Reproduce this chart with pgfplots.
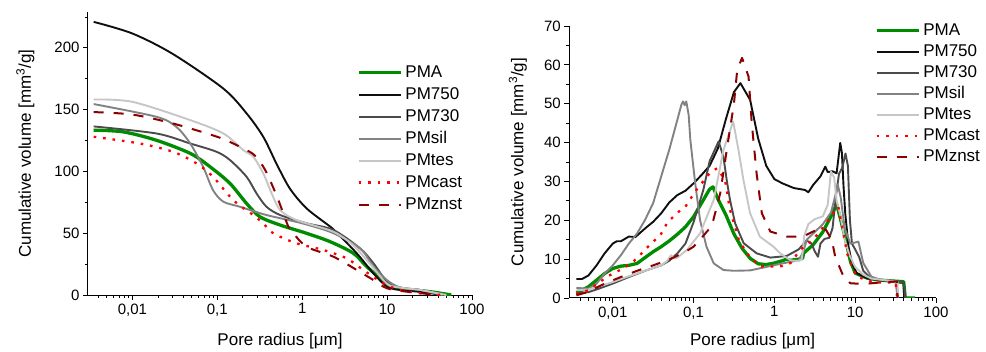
\documentclass[border=0pt]{standalone}
\usepackage{fontspec}
\setmainfont{Liberation Sans}
\usepackage{pgfplots}
\pgfplotsset{compat=1.18}
\definecolor{cgreen}{RGB}{0,140,0}
\definecolor{c750}{RGB}{15,15,15}
\definecolor{c730}{RGB}{75,75,75}
\definecolor{csil}{RGB}{130,130,130}
\definecolor{ctes}{RGB}{198,198,198}
\definecolor{ccast}{RGB}{255,0,0}
\definecolor{cznst}{RGB}{140,0,0}
\pgfplotsset{
  myax/.style={
    scale only axis, axis lines*=left, tick align=outside,
    major tick length=5pt, minor tick length=3pt,
    every tick/.style={black, line width=0.8pt},
    axis line style={line width=1pt, black},
    xtick={0.01,0.1,1,10,100}, xticklabels={{0,01},{0,1},1,10,100},
    minor xtick={0.004,0.005,0.006,0.007,0.008,0.009,0.02,0.03,0.04,0.05,0.06,0.07,0.08,0.09,0.2,0.3,0.4,0.5,0.6,0.7,0.8,0.9,2,3,4,5,6,7,8,9,20,30,40,50,60,70,80,90},
    tick label style={font=\fontsize{15}{15}\selectfont, black},
    /pgf/number format/assume math mode=true,
    label style={font=\fontsize{17}{17}\selectfont},
    xlabel={Pore radius [μm]},
    ylabel={Cumulative volume [mm\textsuperscript{3}/g]},
    legend cell align=left,
    legend image code/.code={\draw[##1] (0pt,0pt) -- (42pt,0pt);},
    legend style={draw=none, fill=none, inner sep=0pt, anchor=north west,
      nodes={font=\fontsize{17}{17}\selectfont, inner ysep=0pt, inner xsep=3pt, text height=12pt, text depth=3pt}},
  },
  sPMA/.style={cgreen, line width=3.3pt},
  s750/.style={c750, line width=1.9pt},
  s730/.style={c730, line width=1.9pt},
  ssil/.style={csil, line width=1.9pt},
  stes/.style={ctes, line width=1.9pt},
  scast/.style={ccast, line width=2.3pt, dash pattern=on 2.6pt off 6.9pt},
  sznst/.style={cznst, line width=2pt, dash pattern=on 10pt off 10pt},
}
\begin{document}
\begin{tikzpicture}
\path[use as bounding box] (0pt,0pt) rectangle (986pt,351pt);
% ---------------- left: cumulative
\begin{axis}[xmode=log, myax, at={(88pt,56pt)}, anchor=south west,
  width=384pt, height=283pt,
  xmin=0.003, xmax=100, ymin=0, ymax=229,
  ytick={0,50,100,150,200}, minor ytick={25,75,125,175,225},
  xlabel style={at={(axis description cs:0.5,-0.18)}, anchor=base},
  ylabel style={at={(axis description cs:-0.149,0.5)}, anchor=base},
  legend style={at={(0.7005,0.813)}, row sep=7pt}]
\addplot[sPMA, smooth, tension=0.5] coordinates {(0.0035,133.4)(0.0078,132)(0.019,125.3)(0.048,114.6)(0.082,103.8)(0.141,90.3)(0.221,74.1)(0.318,63.3)(0.55,56.6)(1.13,49.9)(2.14,43.1)(4.02,33.7)(5.77,22.9)(10,9.4)(15.6,4.9)(32,2.7)(57,0)};
\addlegendentry{PMA}
\addplot[s750, smooth, tension=0.5] coordinates {(0.0035,221)(0.01,211.6)(0.03,195)(0.118,167)(0.221,147)(0.348,128)(0.5,106)(0.718,86)(1.13,70)(2.14,55.3)(2.5,51)(4.4,33.7)(6.9,17.5)(10,6.7)(14.3,4)(25,2.5)(40,0.5)};
\addlegendentry{PM750}
\addplot[s730, smooth, tension=0.5] coordinates {(0.0035,136.4)(0.0192,130.7)(0.048,122.6)(0.098,115.9)(0.141,109.2)(0.221,95.7)(0.29,82.2)(0.38,71.4)(0.55,64.7)(1.13,58)(2.33,52.6)(4.81,37.7)(6.92,25.6)(10,10.8)(14.3,6)(25,4)(45,0)};
\addlegendentry{PM730}
\addplot[ssil, smooth, tension=0.5] coordinates {(0.0035,154.5)(0.0192,144.2)(0.033,136)(0.048,122.6)(0.068,103.8)(0.089,84.9)(0.118,75.5)(0.185,71.4)(0.38,64.7)(1.0,58)(2.33,50)(4.81,37.7)(6.92,23)(10,12)(14.3,6)(25,4)(45,0)};
\addlegendentry{PMsil}
\addplot[stes, smooth, tension=0.5] coordinates {(0.0035,158.2)(0.01,156.3)(0.048,141.5)(0.118,130.7)(0.202,117.3)(0.265,111.9)(0.348,98.4)(0.437,82.2)(0.55,68.7)(0.86,60.6)(2.33,51.2)(4.02,40)(6.31,25)(10,9)(14.3,6)(25,4)(50,0)};
\addlegendentry{PMtes}
\addplot[scast, smooth, tension=0.5] coordinates {(0.0035,128)(0.0122,122.6)(0.030,115.9)(0.057,106.5)(0.089,95.7)(0.154,76.8)(0.265,64.7)(0.348,58)(0.457,49.9)(0.86,41.8)(1.78,36.4)(3.35,29.6)(5.25,20.2)(9.1,9.4)(14.3,4)(27,1)(45,0)};
\addlegendentry{PMcast}
\addplot[sznst, smooth, tension=0.5] coordinates {(0.0035,148)(0.01,146)(0.03,138.8)(0.1,128)(0.154,122.6)(0.265,114)(0.348,103.8)(0.417,93)(0.524,76.8)(0.687,55.3)(0.787,49.9)(1.13,39)(2.33,31)(4.4,20.2)(6.9,12.1)(10,5.4)(17,2.7)(40,0)};
\addlegendentry{PMznst}
\end{axis}
% ---------------- right: differential
\begin{axis}[xmode=log, myax, at={(569.3pt,53pt)}, anchor=south west,
  width=366.7pt, height=272pt,
  xmin=0.0029, xmax=100, ymin=0, ymax=70,
  ytick={0,10,...,70}, minor ytick={5,15,...,65},
  xlabel style={at={(axis description cs:0.5,-0.175)}, anchor=base},
  ylabel style={at={(axis description cs:-0.125,0.5)}, anchor=base},
  legend style={at={(0.833,1.011)}, row sep=6pt}]
\addplot[sPMA, line join=round] coordinates {(0.00355,1.3)(0.00501,2.9)(0.00631,4.6)(0.00794,6.3)(0.01,7.6)(0.0126,8.2)(0.0158,8.4)(0.0200,8.9)(0.0251,10.4)(0.0316,11.9)(0.0398,13.2)(0.0501,14.7)(0.0631,16.4)(0.0794,18.3)(0.1,20.9)(0.126,24.5)(0.158,28.0)(0.174,28.6)(0.2,25.5)(0.251,21.4)(0.316,16.5)(0.398,12.8)(0.501,10.2)(0.631,8.8)(0.794,8.6)(1,9.0)(1.259,9.6)(1.413,10.0)(1.585,9.7)(1.995,10.0)(2.239,10.2)(2.291,11.5)(3.02,13.7)(3.981,17.0)(4.9,20.6)(5.9,24.1)(6.53,20.6)(7.53,15.5)(8.71,9.5)(10,6.4)(14.1,5.1)(20,4.6)(33.1,4.3)(39.8,4.2)(41.7,0)(55,0)};
\addlegendentry{PMA}
\addplot[s750, line join=round] coordinates {(0.00355,4.9)(0.00417,4.9)(0.00501,5.8)(0.00631,8.4)(0.00794,11.5)(0.01,14.0)(0.0112,14.6)(0.0126,14.6)(0.0158,15.8)(0.0191,15.7)(0.0251,17.9)(0.0316,19.6)(0.0398,21.8)(0.0501,24.6)(0.0631,26.5)(0.0794,27.6)(0.1,29.5)(0.126,31.7)(0.158,34.0)(0.2,38.5)(0.251,46)(0.316,53)(0.380,55.3)(0.501,51)(0.631,41)(0.794,34)(1,30.6)(1.259,29.5)(1.738,28.3)(2.399,27.8)(2.630,27.2)(3.020,29.1)(3.715,31.3)(4.266,33.8)(4.571,32.4)(5.248,32.6)(5.888,32.1)(6.531,39.9)(6.855,37.3)(7.178,28.7)(7.534,21.8)(8.279,13.2)(9.120,8.9)(10.47,6.4)(14.0,5.1)(20.4,4.6)(34.4,4.0)(39.8,3.9)(40.3,0)};
\addlegendentry{PM750}
\addplot[s730, line join=round] coordinates {(0.00355,1.2)(0.00501,1.5)(0.00631,2.2)(0.01,3.7)(0.0158,5.4)(0.0251,7.0)(0.0398,8.4)(0.0501,9.6)(0.0631,11.5)(0.0794,14.0)(0.1,19.5)(0.132,27.8)(0.158,35.2)(0.204,40.3)(0.234,36.4)(0.257,30.4)(0.282,25.3)(0.327,19.2)(0.417,14.1)(0.603,11.5)(0.891,10.4)(1.413,10.8)(1.995,12.5)(2.512,14.8)(2.884,14.0)(3.162,12.0)(3.467,10.6)(3.715,14.0)(4.169,15.2)(4.786,15.5)(5.248,18)(5.754,26)(6.310,32)(6.918,33.5)(7.586,37.2)(8.128,34)(8.610,20)(9.120,14)(10,12.5)(11.22,10.5)(12.59,7)(15.85,5)(25.1,4.4)(39.8,4.0)(41.7,0)};
\addlegendentry{PM730}
\addplot[ssil, line join=round] coordinates {(0.00355,2.6)(0.00501,2.4)(0.00631,3.7)(0.00794,6.3)(0.01,8.4)(0.0126,11.0)(0.0158,14.0)(0.0200,16.6)(0.0251,20.1)(0.0316,24.4)(0.0398,31.3)(0.0501,38.2)(0.0631,45.9)(0.0708,49.8)(0.0741,50.6)(0.0776,49.6)(0.0813,50.6)(0.0871,47)(0.0912,40.7)(0.1047,29.6)(0.1202,20.1)(0.1445,13.2)(0.1778,8.9)(0.2344,7.2)(0.316,7.0)(0.501,7.1)(0.794,8.0)(1.259,8.9)(1.995,9.7)(2.291,12)(2.512,15)(3.162,17)(3.981,19)(5.012,22)(5.623,26)(6.081,29.2)(6.607,26)(7.413,18)(8.710,14)(10.96,14.5)(12.59,9)(15.85,5.5)(20,4.8)(31.6,4.3)(33.5,0)};
\addlegendentry{PMsil}
\addplot[stes, line join=round] coordinates {(0.00355,2.0)(0.00501,2.2)(0.00631,2.8)(0.01,4.1)(0.0158,5.6)(0.0251,7.0)(0.0398,8.4)(0.0468,9.5)(0.0525,11.0)(0.0575,10.2)(0.0631,10.4)(0.0832,12.4)(0.1208,16.7)(0.1778,25.3)(0.2344,38.1)(0.3090,45.4)(0.3597,38.1)(0.4140,30.4)(0.501,21.8)(0.661,15.8)(0.975,13.2)(1.18,11.5)(1.585,9.7)(1.995,9.5)(2.188,10)(2.344,16)(2.630,19)(3.162,20.3)(3.981,21)(4.571,24)(5.012,32.5)(5.495,31)(5.888,25)(6.607,21)(7.413,15)(8.511,11)(10,8)(12.59,6)(15.85,5)(25.1,4.5)(33.5,4.2)(33.9,0)};
\addlegendentry{PMtes}
\addplot[scast, line join=round] coordinates {(0.00355,1.0)(0.00501,2.0)(0.00631,3.5)(0.00851,5.5)(0.0123,7.2)(0.0170,8.9)(0.0219,11.1)(0.0288,13.7)(0.0389,16.2)(0.0468,19.2)(0.0617,21.8)(0.0794,23.5)(0.1047,27.4)(0.158,32.1)(0.195,33.4)(0.245,30.4)(0.282,22.7)(0.363,15.0)(0.457,11.5)(0.661,8.1)(1.175,8.1)(1.585,9.0)(2.089,12.4)(3.02,15.0)(4.07,18.4)(6.17,23.5)(7.08,17)(7.94,11.5)(9.12,8.0)(10.5,5.5)(17.0,4.0)(31.6,4.0)(33.1,0)};
\addlegendentry{PMcast}
\addplot[sznst, line join=round] coordinates {(0.00355,0.7)(0.00501,1.6)(0.00794,3.7)(0.0126,5.4)(0.0200,7.0)(0.0316,8.4)(0.0501,9.9)(0.0794,11.9)(0.1,13.2)(0.120,15)(0.158,17.9)(0.176,20.1)(0.214,27)(0.257,38)(0.316,50)(0.347,58.7)(0.398,61.8)(0.479,57)(0.525,45)(0.603,32)(0.700,21.8)(0.891,17.1)(1.429,15.8)(2.239,15.8)(3.715,18.0)(4.365,17.5)(5.129,15)(5.662,10.6)(7.178,5.5)(8.710,3.8)(12.59,3.6)(20.4,4.0)(32.9,4.3)(33.5,0)};
\addlegendentry{PMznst}
\end{axis}
\end{tikzpicture}
\end{document}
